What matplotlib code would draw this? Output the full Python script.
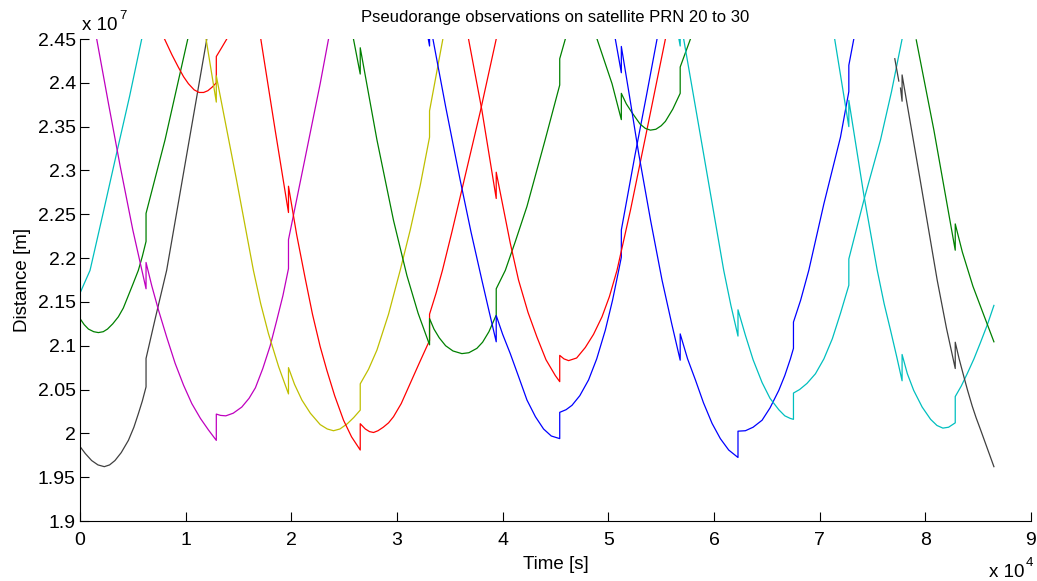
import numpy as np
import matplotlib
matplotlib.use("Agg")
import matplotlib.pyplot as plt
from matplotlib.ticker import FuncFormatter

plt.rcParams['font.family'] = ['Liberation Sans', 'DejaVu Sans']

# time in units of 1e4 s, distance in units of 1e7 m; nan = data gap
nan = np.nan

cyan1_t = [0, 0.095, 0.22, 0.347, 0.47, 0.584]
cyan1_d = [2.160, 2.186, 2.252, 2.320, 2.385, 2.450]

green1_t = [0, 0.04, 0.08, 0.13, 0.174, 0.22, 0.26, 0.31, 0.363, 0.41, 0.45, 0.50, 0.552, 0.59,
            0.625, 0.625, 0.805, 1.02]
green1_d = [2.131, 2.124, 2.119, 2.116, 2.115, 2.116, 2.119, 2.125, 2.133, 2.143, 2.155, 2.170, 2.186, 2.202,
            2.219, 2.251, 2.335, 2.450]

gray1_t = [0, 0.05, 0.11, 0.17, 0.23, 0.28, 0.331, 0.39, 0.458, 0.51, 0.553, 0.59, 0.625, 0.625,
           0.71, 0.82, 1.004, 1.2]
gray1_d = [1.985, 1.977, 1.969, 1.964, 1.962, 1.964, 1.969, 1.978, 1.992, 2.007, 2.0227, 2.037, 2.053, 2.0855,
           2.130, 2.186, 2.314, 2.450]

magenta1_t = [0.158, 0.27, 0.38, 0.50, 0.625, 0.625, 0.68, 0.742, 0.82, 0.90, 0.98, 1.058, 1.14, 1.215,
              1.29, 1.29, 1.33, 1.38, 1.45, 1.531, 1.60, 1.66, 1.73, 1.80, 1.86, 1.92, 1.973, 1.973,
              2.12, 2.273, 2.352]
magenta1_d = [2.450, 2.376, 2.305, 2.232, 2.165, 2.195, 2.168, 2.141, 2.110, 2.080, 2.055, 2.034, 2.017, 2.004,
              1.992, 2.022, 2.0205, 2.020, 2.023, 2.030, 2.040, 2.052, 2.074, 2.100, 2.128, 2.157, 2.188, 2.221,
              2.308, 2.399, 2.450]

red1_t = [0.80, 0.87, 0.93, 0.98, 1.026, 1.08, 1.127, 1.17, 1.21, 1.25, 1.29, 1.29, 1.34, 1.389]
red1_d = [2.450, 2.432, 2.418, 2.407, 2.399, 2.392, 2.389, 2.389, 2.391, 2.395, 2.400, 2.430, 2.440, 2.450]

yellow1_t = [1.193, 1.29, 1.29, 1.48, 1.641, 1.71, 1.783, 1.88, 1.973, 1.973, 2.03, 2.10, 2.18, 2.273,
             2.34, 2.399, 2.46, 2.53, 2.59, 2.652, 2.652, 2.73, 2.81, 2.92, 3.03, 3.125, 3.22, 3.308,
             3.308, 3.434]
yellow1_d = [2.450, 2.378, 2.408, 2.290, 2.186, 2.148, 2.114, 2.076, 2.045, 2.075, 2.056, 2.038, 2.023, 2.010,
             2.005, 2.003, 2.005, 2.011, 2.018, 2.0265, 2.0565, 2.073, 2.095, 2.136, 2.186, 2.232, 2.283, 2.338,
             2.368, 2.450]

red2_t = [1.711, 1.847, 1.973, 1.973, 2.05, 2.131, 2.20, 2.273, 2.336, 2.41, 2.494, 2.57, 2.652, 2.652,
          2.70, 2.74, 2.778, 2.82, 2.87, 2.92, 2.967, 3.04, 3.125, 3.21, 3.308, 3.308, 3.37, 3.43,
          3.52, 3.614, 3.70, 3.788, 3.939]
red2_d = [2.450, 2.346, 2.252, 2.282, 2.227, 2.177, 2.136, 2.099, 2.072, 2.043, 2.015, 1.996, 1.981, 2.011,
          2.005, 2.002, 2.001, 2.003, 2.007, 2.012, 2.019, 2.034, 2.057, 2.080, 2.106, 2.136, 2.160, 2.186,
          2.230, 2.278, 2.322, 2.367, 2.450]

green2_t = [2.588, 2.652, 2.652, 2.81, 2.967, 3.094, 3.20, 3.308, 3.308, 3.35, 3.40, 3.46, 3.53, 3.614,
            3.68, 3.756, 3.81, 3.87, 3.939, 3.939, 4.025, 4.12, 4.23, 4.40, 4.54, 4.54, 4.593]
green2_d = [2.450, 2.410, 2.440, 2.335, 2.243, 2.180, 2.137, 2.101, 2.131, 2.119, 2.109, 2.100, 2.094, 2.091,
            2.092, 2.097, 2.104, 2.116, 2.135, 2.165, 2.186, 2.219, 2.259, 2.334, 2.3975, 2.4275, 2.450]

blue1_t = [3.293, 3.308, 3.308, 3.34, 3.46, 3.598, 3.70, 3.803, 3.87, 3.939, 3.939, 4.00, 4.072, 4.15,
           4.23, 4.31, 4.387, 4.46, 4.54, 4.54, 4.60, 4.656, 4.73, 4.813, 4.89, 4.972, 5.04, 5.098,
           5.123, 5.123, 5.25, 5.36, 5.461]
blue1_d = [2.452, 2.442, 2.472, 2.450, 2.373, 2.289, 2.230, 2.175, 2.140, 2.1045, 2.1345, 2.113, 2.091, 2.065,
           2.038, 2.019, 2.005, 1.997, 1.994, 2.024, 2.027, 2.032, 2.043, 2.061, 2.085, 2.118, 2.152, 2.186,
           2.201, 2.232, 2.316, 2.385, 2.450]

red3_t = [3.677, 3.803, 3.939, 3.939, 4.072, 4.15, 4.24, 4.324, 4.41, 4.498, 4.54, 4.54, 4.58, 4.624,
          4.70, 4.782, 4.86, 4.94, 5.01, 5.082, 5.21, 5.38, 5.54]
red3_d = [2.450, 2.369, 2.268, 2.298, 2.217, 2.175, 2.138, 2.110, 2.084, 2.066, 2.059, 2.089, 2.085, 2.083,
          2.086, 2.098, 2.113, 2.133, 2.156, 2.186, 2.255, 2.355, 2.450]

green3_t = [4.893, 5.035, 5.123, 5.123, 5.17, 5.224, 5.30, 5.35, 5.398, 5.45, 5.50, 5.54, 5.61, 5.68,
            5.68, 5.777]
green3_d = [2.450, 2.399, 2.358, 2.388, 2.376, 2.366, 2.353, 2.348, 2.346, 2.347, 2.351, 2.356, 2.370, 2.388,
            2.418, 2.450]

blue2_t = [5.066, 5.123, 5.123, 5.20, 5.287, 5.40, 5.508, 5.60, 5.68, 5.68, 5.75, 5.824, 5.90, 5.982,
           6.06, 6.139, 6.227, 6.227, 6.297, 6.37, 6.455, 6.53, 6.613, 6.67, 6.723, 6.752, 6.752, 6.82,
           6.897, 7.04, 7.197, 7.276, 7.276, 7.323]
blue2_d = [2.450, 2.4115, 2.4415, 2.385, 2.3195, 2.243, 2.175, 2.125, 2.0835, 2.1135, 2.085, 2.061, 2.035, 2.0113,
           1.994, 1.981, 1.9725, 2.0025, 2.003, 2.007, 2.015, 2.029, 2.049, 2.066, 2.085, 2.097, 2.127, 2.152,
           2.186, 2.262, 2.338, 2.390, 2.420, 2.450]

cyan2_t = [5.665, 5.68, 5.68, 5.713, 5.90, 6.092, 6.16, 6.227, 6.227, 6.297, 6.37, 6.455, 6.53, 6.613,
           6.67, 6.723, 6.752, 6.752, 6.81, 6.88, 6.96, 7.04, 7.12, 7.197, 7.276, 7.276, 7.418, 7.576,
           7.68, 7.78]
cyan2_d = [2.452, 2.442, 2.472, 2.450, 2.320, 2.186, 2.146, 2.111, 2.141, 2.112, 2.084, 2.058, 2.040, 2.027,
           2.020, 2.017, 2.016, 2.046, 2.050, 2.057, 2.068, 2.085, 2.108, 2.137, 2.169, 2.199, 2.266, 2.335,
           2.390, 2.450]

cyan3_t = [7.142, 7.276, 7.276, 7.418, 7.545, 7.61, 7.67, 7.73, 7.78, 7.78, 7.83, 7.89, 7.97, 8.05,
           8.11, 8.166, 8.22, 8.283, 8.283, 8.34, 8.396, 8.46, 8.523, 8.59, 8.649]
cyan3_d = [2.450, 2.350, 2.380, 2.272, 2.186, 2.148, 2.118, 2.087, 2.060, 2.090, 2.068, 2.049, 2.030, 2.016,
           2.009, 2.006, 2.007, 2.012, 2.042, 2.054, 2.068, 2.085, 2.104, 2.125, 2.146]

gray2_t = [7.711, 7.749, nan, 7.765, 7.78, 7.78, 7.95, 8.112, 8.20, 8.283, 8.283, 8.32, 8.365, 8.40,
           8.444, 8.48, 8.523, 8.586, 8.649]
gray2_d = [2.4275, 2.402, nan, 2.394, 2.379, 2.409, 2.290, 2.175, 2.120, 2.074, 2.104, 2.085, 2.0645, 2.049,
           2.031, 2.018, 2.004, 1.983, 1.962]

green4_t = [7.914, 8.081, 8.283, 8.283, 8.35, 8.45, 8.55, 8.649]
green4_d = [2.449, 2.346, 2.209, 2.239, 2.207, 2.168, 2.136, 2.1045]

x_ticks = [0, 1, 2, 3, 4, 5, 6, 7, 8, 9]
y_ticks = [1.9, 1.95, 2.0, 2.05, 2.1, 2.15, 2.2, 2.25, 2.3, 2.35, 2.4, 2.45]

C_B, C_G, C_R = '#0000FF', '#008000', '#FF0000'
C_C, C_M, C_Y, C_K = '#00BFBF', '#BF00BF', '#BFBF00', '#404040'

series = [
    (cyan1_t, cyan1_d, C_C), (green1_t, green1_d, C_G), (gray1_t, gray1_d, C_K),
    (magenta1_t, magenta1_d, C_M), (red1_t, red1_d, C_R), (yellow1_t, yellow1_d, C_Y),
    (red2_t, red2_d, C_R), (green2_t, green2_d, C_G), (blue1_t, blue1_d, C_B),
    (red3_t, red3_d, C_R), (green3_t, green3_d, C_G), (blue2_t, blue2_d, C_B),
    (cyan2_t, cyan2_d, C_C), (cyan3_t, cyan3_d, C_C), (gray2_t, gray2_d, C_K),
    (green4_t, green4_d, C_G),
]

W, H = 1037, 581
fig = plt.figure(figsize=(W / 100, H / 100), dpi=100)
ax = fig.add_axes([80 / W, 60 / H, 951 / W, 482 / H])

for t, d, c in series:
    ax.plot(t, d, color=c, lw=0.9)

ax.set_xlim(0, 9)
ax.set_ylim(1.9, 2.45)
ax.set_xticks(x_ticks)
ax.set_yticks(y_ticks)
ax.yaxis.set_major_formatter(FuncFormatter(lambda v, p: f'{round(v, 4):g}'))
ax.xaxis.set_major_formatter(FuncFormatter(lambda v, p: f'{round(v, 4):g}'))
for s in ['top', 'right']:
    ax.spines[s].set_visible(False)
for s in ['left', 'bottom']:
    ax.spines[s].set_color('black')
    ax.spines[s].set_linewidth(0.8)
ax.tick_params(direction='in', length=6.5, width=0.8, labelsize=14, colors='black')
ax.tick_params(axis='x', pad=8)
ax.tick_params(axis='y', pad=3)

ax.set_xlabel('Time [s]', fontsize=13.5, labelpad=5)
ax.set_ylabel('Distance [m]', fontsize=13.5, labelpad=5)
ax.set_title('Pseudorange observations on satellite PRN 20 to 30', fontsize=12, pad=12)

fig.text(82 / W, 1 - 30 / H, 'x 10', fontsize=13.5, va='baseline', ha='left')
fig.text(119 / W, 1 - 19 / H, '7', fontsize=9.5, va='baseline', ha='left')
fig.text(989 / W, 1 - 577 / H, 'x 10', fontsize=13.5, va='baseline', ha='left')
fig.text(1026 / W, 1 - 566 / H, '4', fontsize=9.5, va='baseline', ha='left')

fig.savefig('out.png', dpi=100)
